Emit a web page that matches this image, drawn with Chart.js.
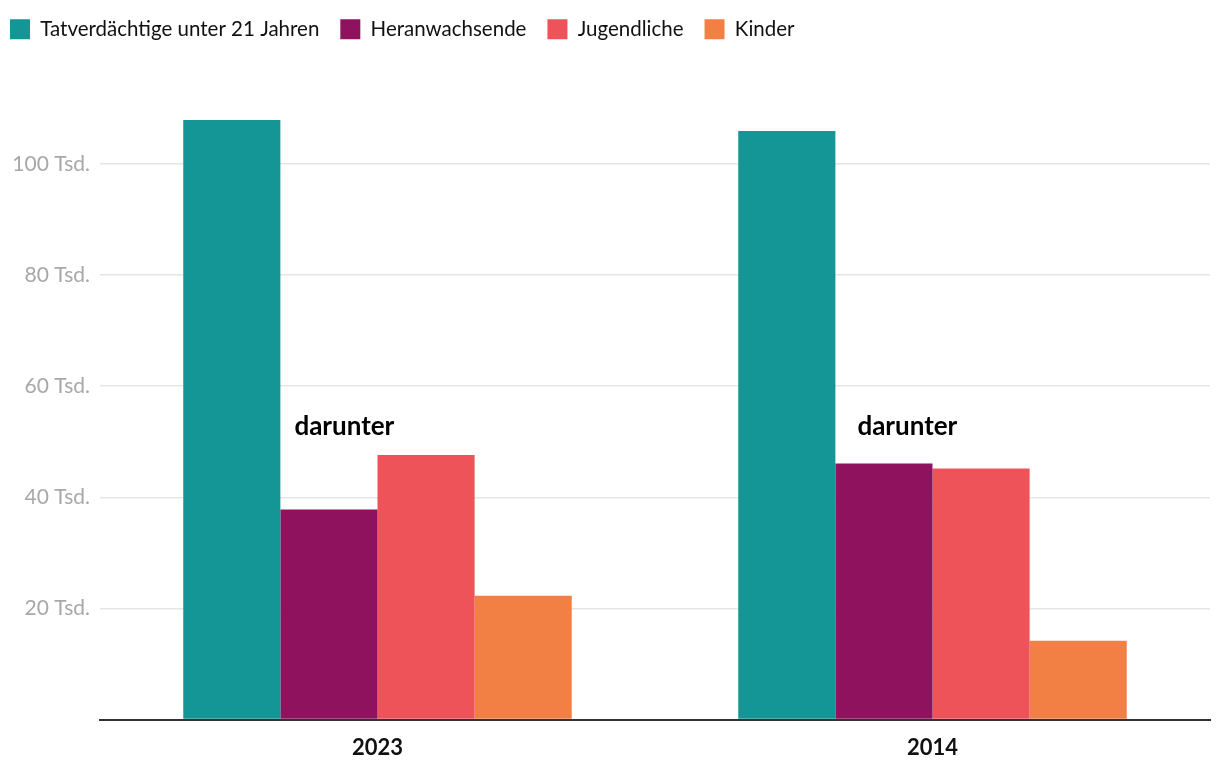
<!DOCTYPE html>
<html>
<head>
<meta charset="utf-8">
<script src="https://cdn.jsdelivr.net/npm/chart.js@4"></script>
<style>
  html, body { margin: 0; padding: 0; background: #fff; }
  #wrap { width: 1220px; height: 776px; }
</style>
</head>
<body>
<div id="wrap"><canvas id="myChart"></canvas></div>
<script>
// data (thousands)
const years = ["2023", "2014"];
const seriesNames = ["Tatverdächtige unter 21 Jahren", "Heranwachsende", "Jugendliche", "Kinder"];
const total = [107.9, 105.9];
const heranwachsende = [37.8, 46.1];
const jugendliche = [47.6, 45.2];
const kinder = [22.3, 14.2];
const yTicks = [0, 20, 40, 60, 80, 100];
const noteText = "darunter";
const noteLevel = 52.8;

const colors = ["#159696", "#8e125e", "#ee535a", "#f28044"];
const fontFamily = "Lato, 'Open Sans', sans-serif";

// "darunter" label above the sub-groups
const notePlugin = {
  id: "notes",
  afterDatasetsDraw(chart) {
    const ctx = chart.ctx;
    const meta = chart.getDatasetMeta(1);
    const y = chart.scales.y.getPixelForValue(noteLevel);
    const offsets = [14, 22];
    ctx.save();
    ctx.font = "bold 26px " + fontFamily;
    ctx.fillStyle = "#000";
    ctx.textBaseline = "middle";
    ctx.textAlign = "left";
    meta.data.forEach((bar, i) => {
      const left = bar.x - bar.width / 2;
      ctx.fillText(noteText, left + offsets[i], y);
    });
    ctx.restore();
  }
};

// pull the legend up to the top-left corner (layout padding pushes it down)
const legendShift = {
  id: "legendShift",
  afterLayout(chart) {
    if (chart.legend) {
      chart.legend.left -= 11;
      chart.legend.top -= 31;
    }
  }
};

function mainEvent() {
  const target = document.querySelector("#myChart");
  const values = [total, heranwachsende, jugendliche, kinder];
  const datasets = seriesNames.map((name, i) => ({
    label: name,
    data: values[i],
    backgroundColor: colors[i],
    borderWidth: 0,
    categoryPercentage: 0.7,
    barPercentage: 1.0
  }));

  new Chart(target, {
    type: "bar",
    data: { labels: years, datasets: datasets },
    plugins: [notePlugin, legendShift],
    options: {
      responsive: true,
      maintainAspectRatio: false,
      animation: false,
      layout: { padding: { left: 0, right: 10, top: 29, bottom: 0 } },
      plugins: {
        tooltip: { enabled: false },
        legend: {
          position: "top",
          align: "start",
          labels: {
            boxWidth: 20,
            boxHeight: 20,
            padding: 21,
            color: "#111",
            font: { family: fontFamily, size: 20.5 }
          }
        }
      },
      scales: {
        x: {
          grid: { display: false, drawTicks: false },
          border: { display: true, color: "#333", width: 2 },
          ticks: {
            color: "#111",
            padding: 15,
            font: { family: fontFamily, size: 22, weight: "bold" }
          }
        },
        y: {
          min: 0,
          max: 115,
          afterBuildTicks: (axis) => {
            axis.ticks = yTicks.map((v) => ({ value: v }));
          },
          afterFit: (axis) => {
            axis.width = 100;
          },
          grid: { color: "#e5e5e5", lineWidth: 1.5, drawTicks: false },
          border: { display: false },
          ticks: {
            color: "#a8a8a8",
            padding: 10,
            font: { family: fontFamily, size: 21 },
            callback: (v) => (v === 0 ? "" : v + " Tsd.")
          }
        }
      }
    }
  });
}

document.addEventListener("DOMContentLoaded", () => mainEvent());
</script>
</body>
</html>
